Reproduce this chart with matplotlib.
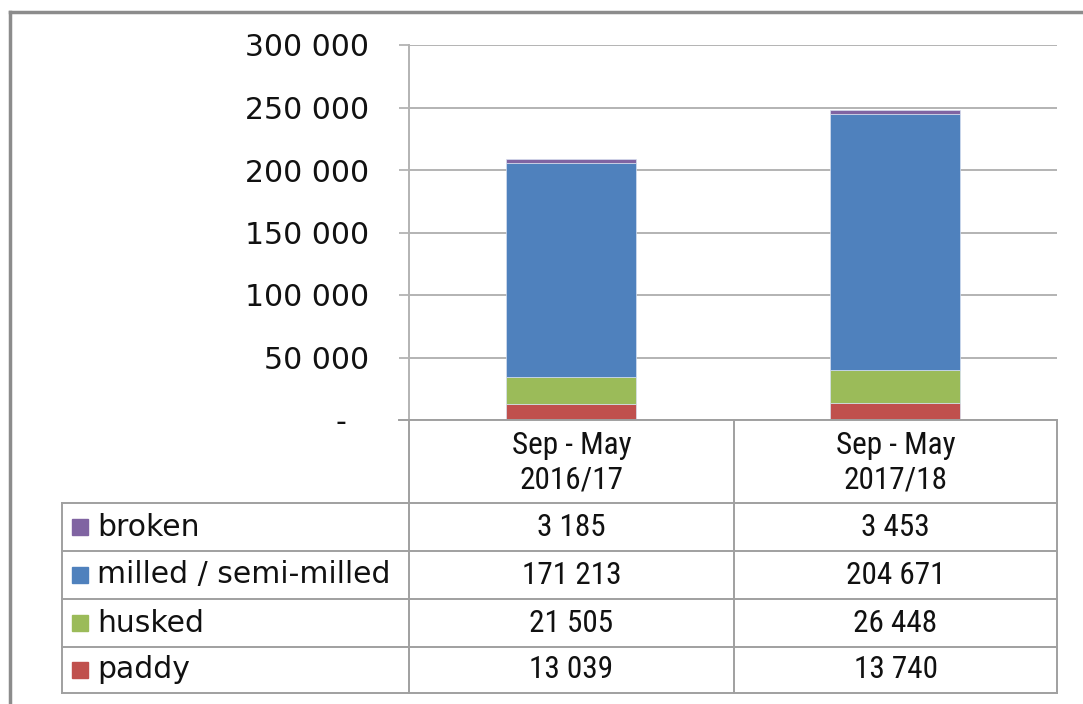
import matplotlib as mpl
from matplotlib import pyplot as plt
from matplotlib import font_manager
from matplotlib.patches import Rectangle
import matplotlib.transforms as mtransforms


categories = ["Sep - May\n2016/17", "Sep - May\n2017/18"]
series_names = ["paddy", "husked", "milled / semi-milled", "broken"]
paddy = [13039, 13740]
husked = [21505, 26448]
milled = [171213, 204671]
broken = [3185, 3453]
yticks = [0, 50000, 100000, 150000, 200000, 250000, 300000]

colors = ["#C0504D", "#9BBB59", "#4F81BD", "#8064A2"]
series = [paddy, husked, milled, broken]

W, H = 1083, 704
fig = plt.figure(figsize=(W / 100, H / 100), dpi=100)

grid_c = "#B3B3B3"
table_c = "#A0A0A0"

# bar plot area
ax = fig.add_axes([409 / W, (H - 420) / H, (1057 - 409) / W, (420 - 45) / H])
x = list(range(len(categories)))
bottom = [0] * len(categories)
for vals, col, name in zip(series, colors, series_names):
    ax.bar(x, vals, bottom=bottom, width=0.4, color=col, edgecolor="#D6E0F0",
           linewidth=0.5, label=name, zorder=3)
    bottom = [b + v for b, v in zip(bottom, vals)]

ax.set_xlim(-0.5, 1.5)
ax.set_ylim(0, 300000)
ax.set_yticks(yticks)


def thousands(value, tick_number):
    if value == 0:
        return "-"
    return f"{int(value):,}".replace(",", " ")


ax.yaxis.set_major_formatter(plt.FuncFormatter(thousands))
ax.set_xticks([])
ax.tick_params(axis="y", length=7.5, width=1.3, color=grid_c, pad=21,
               labelsize=21.5, labelcolor="#111111")
ax.grid(axis="y", color=grid_c, linewidth=1.4, zorder=0)
for s in ["top", "right", "bottom"]:
    ax.spines[s].set_visible(False)
ax.spines["left"].set_color(grid_c)
ax.spines["left"].set_linewidth(1.4)

# shift the "-" label a little to the left, as in the original
zero_lab = ax.yaxis.get_major_ticks()[0].label1
zero_lab.set_transform(zero_lab.get_transform() +
                       mtransforms.ScaledTranslation(-0.23, 0, fig.dpi_scale_trans))

# data table below the plot, drawn in pixel coordinates
tab = fig.add_axes([0, 0, 1, 1], zorder=5)
tab.set_xlim(0, W)
tab.set_ylim(H, 0)
tab.axis("off")
tab.patch.set_alpha(0)

col_x = [62, 409, 734, 1057]
row_y = [420, 503, 551, 599, 647, 693]
lw = 1.4

# outer frame of the chart
tab.plot([10, 10], [H, 12], color="#8C8C8C", linewidth=2.5)
tab.plot([10, W], [12, 12], color="#8C8C8C", linewidth=2.5)

# horizontal lines
tab.plot([399, col_x[3]], [row_y[0], row_y[0]], color=table_c, linewidth=lw)
for y in row_y[1:]:
    tab.plot([col_x[0], col_x[3]], [y, y], color=table_c, linewidth=lw)
# vertical lines
tab.plot([col_x[0], col_x[0]], [row_y[1], row_y[-1]], color=table_c, linewidth=lw)
for cx in col_x[1:]:
    tab.plot([cx, cx], [row_y[0], row_y[-1]], color=table_c, linewidth=lw)

# the numbers in the table use a narrow face
installed = {f.name for f in font_manager.fontManager.ttflist}
narrow = [f for f in ["Liberation Sans Narrow", "DejaVu Sans Condensed",
                      "Roboto Condensed", "Open Sans Condensed"] if f in installed]
narrow_size = 22.5
if not narrow:
    narrow = ["Liberation Sans"]
    narrow_size = 20
narrow = narrow + ["DejaVu Sans"]

# header row
for i, cat in enumerate(categories):
    cx = (col_x[i + 1] + col_x[i + 2]) / 2
    tab.text(cx, (row_y[0] + row_y[1]) / 2 + 1, cat, ha="center", va="center",
             fontsize=narrow_size, family=narrow, linespacing=1.25, color="#111111")

# data rows, top to bottom: broken, milled, husked, paddy
for r, k in enumerate(range(len(series) - 1, -1, -1)):
    cy = (row_y[r + 1] + row_y[r + 2]) / 2
    tab.add_patch(Rectangle((72, cy - 8), 16, 16, color=colors[k]))
    tab.text(97, cy, series_names[k], ha="left", va="center", fontsize=21.5,
             color="#111111")
    for i, v in enumerate(series[k]):
        cx = (col_x[i + 1] + col_x[i + 2]) / 2
        tab.text(cx, cy, f"{v:,}".replace(",", " "), ha="center", va="center",
                 fontsize=narrow_size, family=narrow, color="#111111")

plt.savefig("out.png", format="png", dpi=100)
